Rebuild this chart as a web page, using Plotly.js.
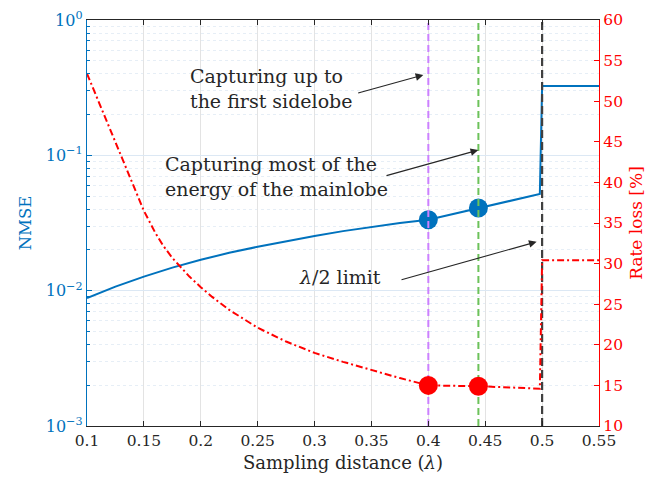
<!DOCTYPE html>
<html>
<head>
<meta charset="utf-8">
<script src="https://cdn.plot.ly/plotly-3.0.1.min.js"></script>
<style>html,body{margin:0;padding:0;background:#fff;}#chart{width:663px;height:479px;}</style>
</head>
<body>
<div id="chart"></div>
<script>
// Sampling distance (in wavelengths) for the NMSE curve
const xNmse = [0.1, 0.125, 0.15, 0.175, 0.2, 0.225, 0.25, 0.275, 0.3, 0.325, 0.35, 0.375, 0.4, 0.444, 0.498, 0.5, 0.55];
const nmse  = [0.00881, 0.01072, 0.0127, 0.01479, 0.0169, 0.01905, 0.0211, 0.02317, 0.02535, 0.02754, 0.02965, 0.03162, 0.0334, 0.0408, 0.0518, 0.325, 0.325];
// Sampling distance for the rate-loss curve
const xRate = [0.1, 0.11, 0.116, 0.125, 0.133, 0.14, 0.15, 0.16, 0.167, 0.175, 0.183, 0.19, 0.2, 0.21, 0.225, 0.24, 0.25, 0.275, 0.3, 0.325, 0.35, 0.375, 0.4, 0.444, 0.498, 0.5, 0.55];
const rateLoss = [53.4, 50.0, 48.0, 45.0, 42.3, 39.9, 36.5, 33.8, 32.2, 30.7, 29.5, 28.4, 27.1, 25.9, 24.3, 23.0, 22.1, 20.4, 19.0, 17.9, 16.9, 15.9, 15.0, 14.9, 14.6, 30.4, 30.4];
// Highlighted design points
const xMarks = [0.4, 0.444];
const nmseMarks = [0.0334, 0.0408];
const rateMarks = [15.0, 14.9];
// Reference vertical lines
const xSidelobe = 0.4, xMainlobe = 0.444, xLimit = 0.5;
// Tick labels
const xTicks = [0.1, 0.15, 0.2, 0.25, 0.3, 0.35, 0.4, 0.45, 0.5, 0.55];
const yTickVals = [0.001, 0.01, 0.1, 1];
const yTickText = ['10<sup>−3</sup>', '10<sup>−2</sup>', '10<sup>−1</sup>', '10<sup>0</sup>'];
const rateTicks = [10, 15, 20, 25, 30, 35, 40, 45, 50, 55, 60];

const BLUE = '#0072BD', RED = '#FF0000', TXT = '#262626';
const FONT = '"DejaVu Serif", "Liberation Serif", serif';

const traces = [
  {x: xNmse, y: nmse, type: 'scatter', mode: 'lines', line: {color: BLUE, width: 2}, yaxis: 'y', hoverinfo: 'none'},
  {x: xRate, y: rateLoss, type: 'scatter', mode: 'lines', line: {color: RED, width: 2, dash: '7px,3px,2px,3px'}, yaxis: 'y2', hoverinfo: 'none'},
  {x: xMarks, y: nmseMarks, type: 'scatter', mode: 'markers', marker: {color: BLUE, size: 19}, yaxis: 'y'},
  {x: xMarks, y: rateMarks, type: 'scatter', mode: 'markers', marker: {color: RED, size: 19}, yaxis: 'y2'},
  {x: [xSidelobe, xSidelobe], y: [0.001, 1], type: 'scatter', mode: 'lines', line: {color: '#cc80ff', width: 2, dash: '7px,4px'}, yaxis: 'y'},
  {x: [xMainlobe, xMainlobe], y: [0.001, 1], type: 'scatter', mode: 'lines', line: {color: '#6cc25a', width: 2, dash: '7px,4px'}, yaxis: 'y'},
  {x: [xLimit, xLimit], y: [0.001, 1], type: 'scatter', mode: 'lines', line: {color: '#404040', width: 2.2, dash: '8px,4px'}, yaxis: 'y'}
];

const annFont = {family: FONT, size: 19, color: TXT};
const layout = {
  width: 663, height: 479,
  margin: {l: 87, r: 64, t: 20, b: 53},
  paper_bgcolor: '#fff', plot_bgcolor: '#fff',
  showlegend: false,
  font: {family: FONT, color: TXT},
  xaxis: {
    range: [0.1, 0.55], tickvals: xTicks, ticktext: xTicks.map(String),
    ticks: 'inside', ticklen: 5, tickcolor: '#262626',
    showline: true, linecolor: '#262626', linewidth: 1, mirror: 'ticks',
    showgrid: true, gridcolor: '#e3e3e3', gridwidth: 1, zeroline: false,
    tickfont: {family: FONT, size: 15.5, color: TXT},
    title: {text: 'Sampling distance (<i>λ</i>)', font: {family: FONT, size: 18, color: TXT}, standoff: 7}
  },
  yaxis: {
    type: 'log', range: [-3, 0],
    tickmode: 'array', tickvals: yTickVals, ticktext: yTickText,
    ticks: 'inside', ticklen: 5, tickcolor: BLUE,
    showline: true, linecolor: BLUE, linewidth: 1.2,
    showgrid: true, gridcolor: '#dce8f4', gridwidth: 1, zeroline: false,
    tickfont: {family: FONT, size: 16, color: BLUE},
    minor: {dtick: 'D1', ticks: 'inside', ticklen: 3, tickcolor: BLUE, showgrid: true, gridcolor: '#e6eef6', griddash: 'dot', gridwidth: 1},
    title: {text: 'NMSE', font: {family: FONT, size: 16.5, color: BLUE}, standoff: 10}
  },
  yaxis2: {
    overlaying: 'y', side: 'right', range: [10, 60],
    tickvals: rateTicks, ticks: 'inside', ticklen: 5, tickcolor: RED,
    showline: true, linecolor: RED, linewidth: 1.2,
    showgrid: false, zeroline: false,
    tickfont: {family: FONT, size: 15.5, color: RED},
    title: {text: 'Rate loss [%]', font: {family: FONT, size: 17, color: RED}, standoff: 8}
  },
  annotations: [
    {xref: 'x', yref: 'y', x: 0.1885, y: -0.508, xanchor: 'left', yanchor: 'middle', align: 'left', showarrow: false,
     text: 'Capturing up to<br>the first sidelobe', font: annFont},
    {xref: 'x', yref: 'y', x: 0.1665, y: -1.156, xanchor: 'left', yanchor: 'middle', align: 'left', showarrow: false,
     text: 'Capturing most of the<br>energy of the mainlobe', font: annFont},
    {xref: 'x', yref: 'y', x: 0.2843, y: -1.90, xanchor: 'left', yanchor: 'middle', align: 'left', showarrow: false,
     text: '<i>λ</i>/2 limit', font: annFont},
    {xref: 'x', yref: 'y', axref: 'x', ayref: 'y', x: 0.3956, y: -0.4065, ax: 0.337, ay: -0.5418, text: '',
     showarrow: true, arrowhead: 2, arrowsize: 1.4, arrowwidth: 1.1, arrowcolor: TXT},
    {xref: 'x', yref: 'y', axref: 'x', ayref: 'y', x: 0.4439, y: -0.961, ax: 0.3619, ay: -1.153, text: '',
     showarrow: true, arrowhead: 2, arrowsize: 1.4, arrowwidth: 1.1, arrowcolor: TXT},
    {xref: 'x', yref: 'y', axref: 'x', ayref: 'y', x: 0.4952, y: -1.639, ax: 0.3751, ay: -1.922, text: '',
     showarrow: true, arrowhead: 2, arrowsize: 1.4, arrowwidth: 1.1, arrowcolor: TXT}
  ]
};

Plotly.newPlot('chart', traces, layout, {staticPlot: true, displayModeBar: false});
</script>
</body>
</html>
